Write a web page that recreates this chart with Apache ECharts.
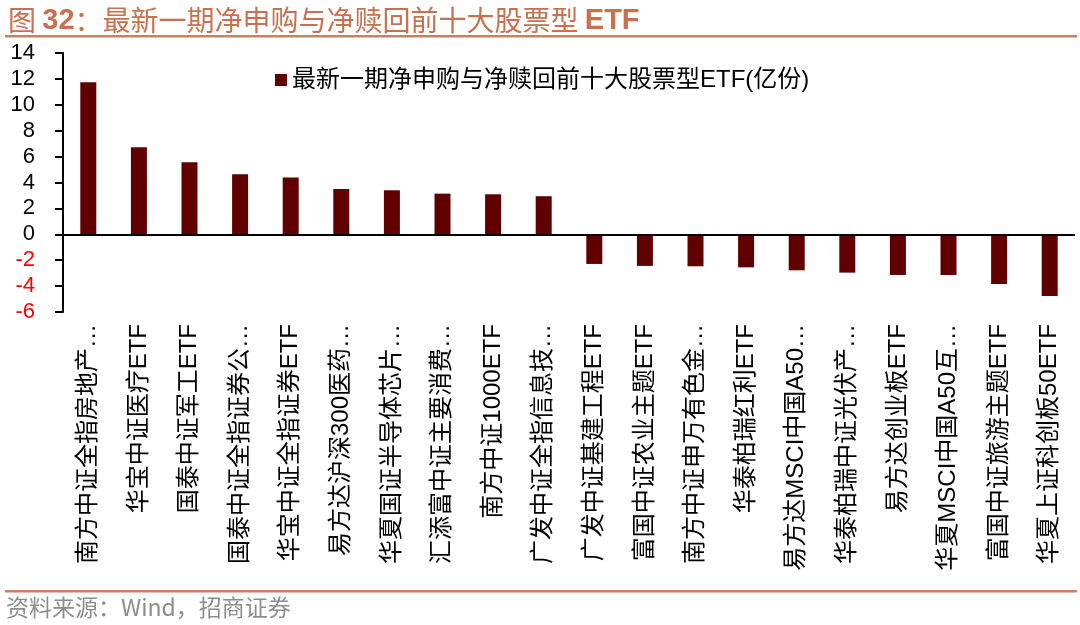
<!DOCTYPE html>
<html>
<head>
<meta charset="utf-8">
<script src="https://cdn.jsdelivr.net/npm/echarts@6/dist/echarts.min.js"></script>
<style>html,body{margin:0;padding:0;background:#fff;}#c{width:1080px;height:625px;}</style>
</head>
<body>
<div id="c"></div>
<script>
const categories = [
  '南方中证全指房地产…','华宝中证医疗ETF','国泰中证军工ETF','国泰中证全指证券公…','华宝中证全指证券ETF',
  '易方达沪深300医药…','华夏国证半导体芯片…','汇添富中证主要消费…','南方中证1000ETF','广发中证全指信息技…',
  '广发中证基建工程ETF','富国中证农业主题ETF','南方中证申万有色金…','华泰柏瑞红利ETF','易方达MSCI中国A50…',
  '华泰柏瑞中证光伏产…','易方达创业板ETF','华夏MSCI中国A50互…','富国中证旅游主题ETF','华夏上证科创板50ETF'
];
const netValues = [11.75, 6.73, 5.57, 4.64, 4.38, 3.50, 3.40, 3.14, 3.09, 2.94,
  -2.29, -2.44, -2.47, -2.55, -2.78, -2.96, -3.14, -3.14, -3.84, -4.76];
const seriesName = '最新一期净申购与净赎回前十大股票型ETF(亿份)';
const titleText = '{c|图 }{l|32}{c|：最新一期净申购与净赎回前十大股票型 }{l|ETF}';
const sourceText = '资料来源：Wind，招商证券';

const chart = echarts.init(document.getElementById('c'));
const latin = "'Liberation Sans', 'Noto Sans CJK SC', sans-serif";
chart.setOption({
  backgroundColor: '#fff',
  animation: false,
  title: {
    text: titleText,
    left: 3, top: 1,
    textStyle: {
      rich: {
        c: { fontSize: 28, color: '#C8704F', fontFamily: "'Noto Sans CJK SC'", fontWeight: 'normal' },
        l: { fontSize: 29, color: '#C8704F', fontFamily: "'Liberation Sans'", fontWeight: 'bold' }
      }
    }
  },
  graphic: [
    { type: 'rect', shape: { x: 5, y: 35, width: 1072, height: 2.5 }, style: { fill: '#CC7E61' }, silent: true },
    { type: 'rect', shape: { x: 5, y: 590, width: 1072, height: 2.5 }, style: { fill: '#CC7E61' }, silent: true },
    { type: 'text', left: 6, top: 596, style: { text: sourceText, fill: '#8C8C8C', fontSize: 23, fontFamily: "'Noto Sans CJK SC'" } }
  ],
  legend: {
    left: 270, top: 63,
    itemWidth: 12, itemHeight: 12, itemGap: 5,
    icon: 'rect',
    textStyle: { fontSize: 24, color: '#000', fontFamily: latin },
    data: [seriesName]
  },
  grid: { left: 63, right: 5, top: 53, bottom: 313, containLabel: false },
  xAxis: {
    type: 'category',
    data: categories,
    axisLine: { show: false, onZero: false },
    axisTick: { show: false },
    axisLabel: { rotate: 90, interval: 0, margin: 12, fontSize: 24, color: '#000', fontFamily: latin }
  },
  yAxis: {
    type: 'value',
    min: -6, max: 14, interval: 2,
    splitLine: { show: false },
    axisLine: { show: true, lineStyle: { color: '#000', width: 2 } },
    axisTick: { show: true, inside: false, length: 8, lineStyle: { color: '#000', width: 2 } },
    axisLabel: {
      margin: 28, fontSize: 22, fontFamily: "'Liberation Sans'",
      color: function (v) { return Number(v) < 0 ? '#FF0000' : '#000'; }
    }
  },
  series: [{
    name: seriesName,
    type: 'bar',
    data: netValues,
    barWidth: 16,
    itemStyle: { color: '#600000' },
    markLine: {
      silent: true, symbol: 'none',
      label: { show: false },
      lineStyle: { color: '#000', width: 2, type: 'solid' },
      data: [{ yAxis: 0 }]
    }
  }]
});
</script>
</body>
</html>
